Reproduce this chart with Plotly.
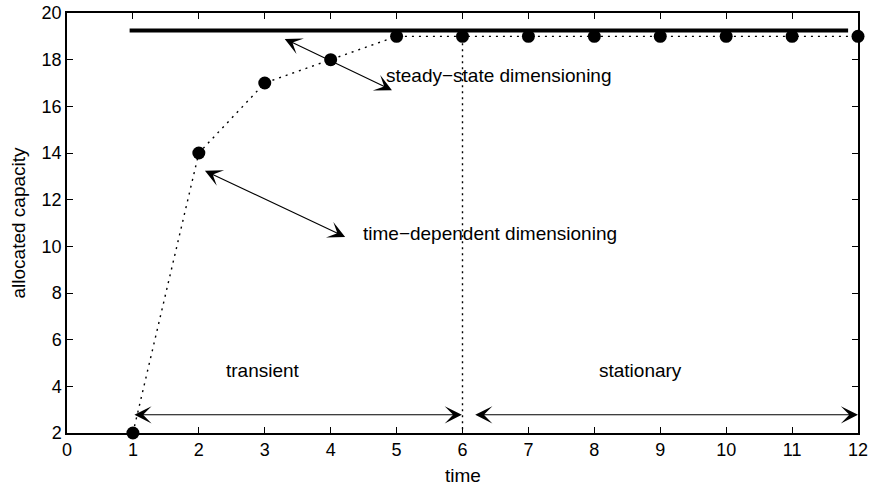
import plotly.graph_objects as go

time = [1, 2, 3, 4, 5, 6, 7, 8, 9, 10, 11, 12]
capacity = [2, 14, 17, 18, 19, 19, 19, 19, 19, 19, 19, 19]
steady_x = [0.95, 11.85]
steady_y = [19.25, 19.25]
boundary_x = [6, 6]
boundary_y = [1.9, 19]
xticks = list(range(0, 13))
yticks = list(range(2, 21, 2))

fig = go.Figure()
fig.add_trace(go.Scatter(x=steady_x, y=steady_y, mode="lines",
                         line=dict(color="black", width=4), showlegend=False))
fig.add_trace(go.Scatter(x=boundary_x, y=boundary_y, mode="lines",
                         line=dict(color="black", width=1.4, dash="2px,4px"), showlegend=False,
                         cliponaxis=False))
fig.add_trace(go.Scatter(x=time, y=capacity, mode="lines+markers",
                         line=dict(color="black", width=1.4, dash="2px,5px"),
                         marker=dict(color="black", size=13), showlegend=False,
                         cliponaxis=False))

font = dict(family="Liberation Sans, Arial, sans-serif", size=18, color="black")
tfont = dict(family="Liberation Sans, Arial, sans-serif", size=19, color="black")

def arrow(x0, y0, x1, y1):
    fig.add_annotation(x=x1, y=y1, ax=x0, ay=y0, xref="x", yref="y", axref="x", ayref="y",
                       text="", showarrow=True, arrowhead=3, startarrowhead=3,
                       arrowside="end+start", arrowsize=2.6, startarrowsize=2.6,
                       arrowwidth=1.1, arrowcolor="black", standoff=0, startstandoff=0)

arrow(3.28, 18.92, 4.93, 16.69)
arrow(2.07, 13.27, 4.22, 10.4)
arrow(1.0, 2.78, 5.99, 2.78)
arrow(6.17, 2.78, 12.0, 2.78)

def label(x, y, t):
    fig.add_annotation(x=x, y=y, xref="x", yref="y", text=t, showarrow=False, font=tfont)

label(6.55, 17.33, "steady\u2212state dimensioning")
label(6.42, 10.57, "time\u2212dependent dimensioning")
label(2.98, 4.67, "transient")
label(8.7, 4.67, "stationary")

# axis titles
fig.add_annotation(x=0.5, y=0, xref="paper", yref="paper", yanchor="middle",
                   yshift=-42, text="time", showarrow=False, font=tfont)
fig.add_annotation(x=0, y=0.5, xref="paper", yref="paper", xanchor="center",
                   xshift=-49.5, textangle=-90, text="allocated capacity",
                   showarrow=False, font=tfont)

fig.update_layout(
    width=870, height=487,
    margin=dict(l=67, r=12, t=13, b=54, autoexpand=False),
    plot_bgcolor="white", paper_bgcolor="white",
    font=font,
    xaxis=dict(range=[0, 12], tickvals=xticks, ticks="inside", ticklen=6,
               tickcolor="black", tickwidth=1, showline=True, linecolor="black",
               linewidth=1.5, mirror="ticks", showgrid=False, zeroline=False,
               automargin=False, tickfont=font, ticklabeloverflow="allow"),
    yaxis=dict(range=[2, 20], tickvals=yticks, ticks="inside", ticklen=6,
               tickcolor="black", tickwidth=1, showline=True, linecolor="black",
               linewidth=1.5, mirror="ticks", showgrid=False, zeroline=False,
               automargin=False, tickfont=font, ticklabeloverflow="allow"),
)

fig.write_html("out.html", config={"displayModeBar": False},
               post_script="document.body.style.margin='0';document.body.style.overflow='hidden';")
